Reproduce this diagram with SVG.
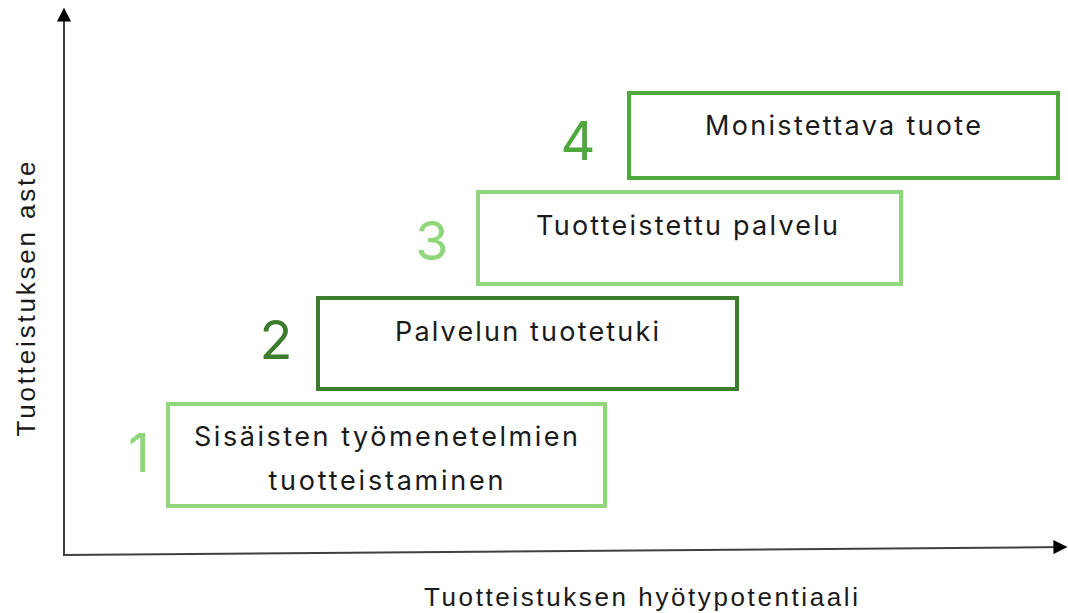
<svg xmlns="http://www.w3.org/2000/svg" width="1068" height="613" viewBox="0 0 1068 613">
  <style>
    .box { fill: #ffffff; stroke-width: 4; }
    .light { stroke: #8fd77a; }
    .dark { stroke: #3b7d2c; }
    .mid { stroke: #4fa83c; }
    .label { font-family: "Inter", "Liberation Sans", sans-serif; font-size: 27px; fill: #1a1a1a; text-anchor: middle; }
    .num { font-family: "Inter", "Liberation Sans", sans-serif; font-size: 54px; text-anchor: middle; }
    .axis-label { font-family: "Liberation Sans", "Arial", sans-serif; font-size: 26px; fill: #1a1a1a; text-anchor: middle; }
    .axis { stroke: #404040; stroke-width: 2; fill: none; }
  </style>
  <defs>
    <marker id="arrow" viewBox="0 0 10 10" refX="9" refY="5" markerWidth="7" markerHeight="7" markerUnits="strokeWidth" orient="auto">
      <path d="M0,0 L10,5 L0,10 Z" fill="#000000"/>
    </marker>
  </defs>
  <rect width="1068" height="613" fill="#ffffff"/>

  <g id="connectors">
    <line class="axis" x1="64" y1="555" x2="64" y2="9" marker-end="url(#arrow)"/>
    <line class="axis" x1="63" y1="555" x2="1066" y2="547" marker-end="url(#arrow)"/>
  </g>

  <g id="axis-y-label">
    <text class="axis-label" transform="translate(35,299) rotate(-90)" textLength="275" lengthAdjust="spacing">Tuotteistuksen aste</text>
  </g>
  <g id="axis-x-label">
    <text class="axis-label" x="641" y="606" textLength="434" lengthAdjust="spacing">Tuotteistuksen hyötypotentiaali</text>
  </g>

  <g id="step1">
    <rect class="box light" x="168" y="404" width="437" height="102"/>
    <text class="num" x="139" y="472" fill="#8fd77a">1</text>
    <text class="label" x="386" y="446" textLength="384" lengthAdjust="spacing">Sisäisten työmenetelmien</text>
    <text class="label" x="386" y="490" textLength="235" lengthAdjust="spacing">tuotteistaminen</text>
  </g>

  <g id="step2">
    <rect class="box dark" x="318" y="298" width="419" height="91"/>
    <text class="num" x="276" y="359" fill="#3b7d2c">2</text>
    <text class="label" x="527" y="341" textLength="264" lengthAdjust="spacing">Palvelun tuotetuki</text>
  </g>

  <g id="step3">
    <rect class="box light" x="478" y="192" width="423" height="92"/>
    <text class="num" x="432" y="260" fill="#8fd77a">3</text>
    <text class="label" x="687" y="235" textLength="302" lengthAdjust="spacing">Tuotteistettu palvelu</text>
  </g>

  <g id="step4">
    <rect class="box mid" x="629" y="93" width="429" height="85"/>
    <text class="num" x="578" y="160" fill="#4fa83c">4</text>
    <text class="label" x="843" y="135" textLength="276" lengthAdjust="spacing">Monistettava tuote</text>
  </g>
</svg>
